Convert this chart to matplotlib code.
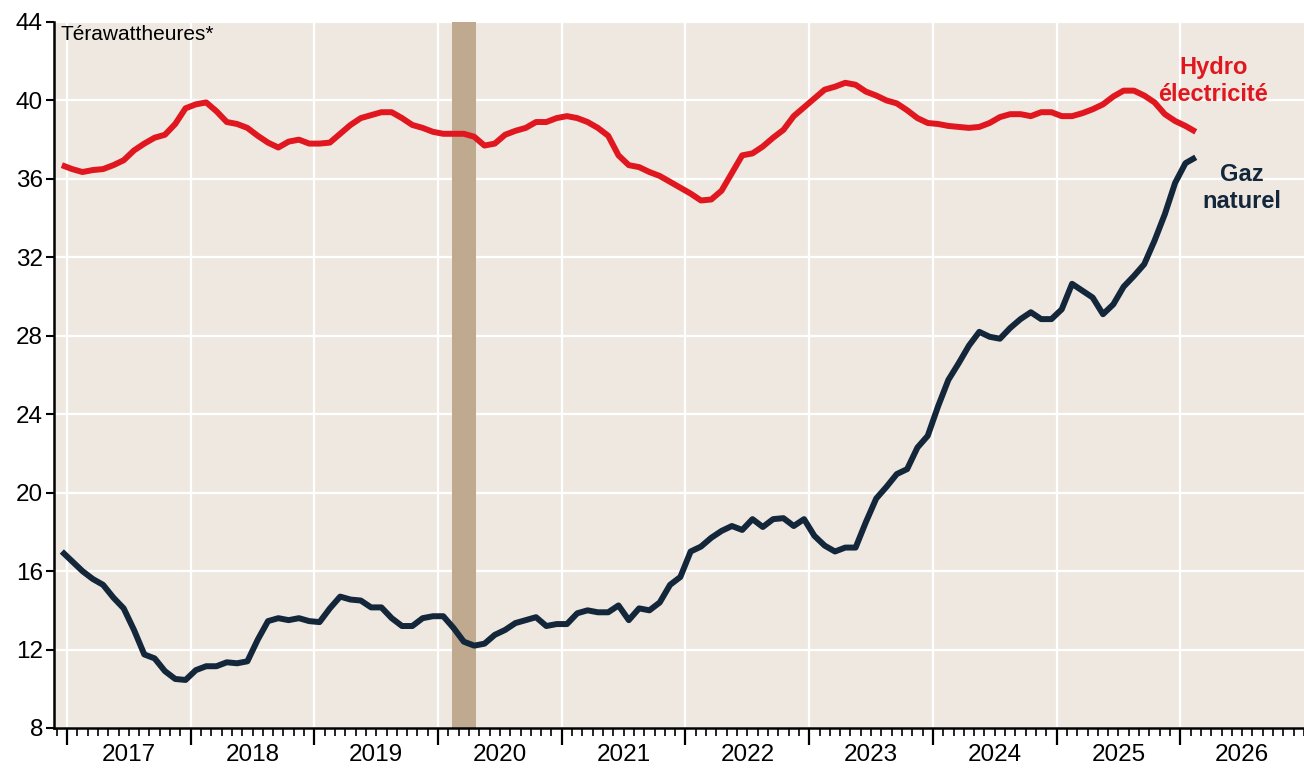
import numpy as np
import matplotlib
matplotlib.use("Agg")
import matplotlib.pyplot as plt
from matplotlib.ticker import FixedLocator, MultipleLocator
import matplotlib.transforms as mtransforms

plt.rcParams['font.family'] = ['Liberation Sans', 'DejaVu Sans']

# Séries mensuelles, déc. 2016 -> févr. 2026 (points en milieu de mois)
start_year = 2016
start_month = 12

hydro = [
    36.7, 36.5, 36.35, 36.45, 36.5, 36.7, 36.95, 37.45, 37.8, 38.1,
    38.25, 38.8, 39.6, 39.8, 39.9, 39.45, 38.9, 38.8, 38.6, 38.2,
    37.85, 37.6, 37.9, 38.0, 37.8, 37.8, 37.85, 38.3, 38.75, 39.1,
    39.25, 39.4, 39.4, 39.1, 38.75, 38.6, 38.4, 38.3, 38.3, 38.3,
    38.15, 37.7, 37.8, 38.25, 38.45, 38.6, 38.9, 38.9, 39.1, 39.2,
    39.1, 38.9, 38.6, 38.2, 37.2, 36.7, 36.6, 36.35, 36.15, 35.85,
    35.55, 35.25, 34.9, 34.95, 35.4, 36.3, 37.2, 37.3, 37.65, 38.1,
    38.5, 39.2, 39.65, 40.1, 40.55, 40.7, 40.9, 40.8, 40.45, 40.25,
    40.0, 39.85, 39.5, 39.1, 38.85, 38.8, 38.7, 38.65, 38.6, 38.65,
    38.85, 39.15, 39.3, 39.3, 39.2, 39.4, 39.4, 39.2, 39.2, 39.35,
    39.55, 39.8, 40.2, 40.5, 40.5, 40.25, 39.9, 39.3, 38.95, 38.7,
    38.4,
]

gaz = [
    17.0, 16.5, 16.0, 15.6, 15.3, 14.65, 14.1, 13.0, 11.75, 11.55,
    10.9, 10.5, 10.45, 10.95, 11.15, 11.15, 11.35, 11.3, 11.4, 12.5,
    13.45, 13.6, 13.5, 13.6, 13.45, 13.4, 14.1, 14.7, 14.55, 14.5,
    14.15, 14.15, 13.6, 13.2, 13.2, 13.6, 13.7, 13.7, 13.1, 12.4,
    12.2, 12.3, 12.75, 13.0, 13.35, 13.5, 13.65, 13.2, 13.3, 13.3,
    13.85, 14.0, 13.9, 13.9, 14.25, 13.5, 14.1, 14.0, 14.4, 15.3,
    15.7, 17.0, 17.25, 17.7, 18.05, 18.3, 18.1, 18.65, 18.25, 18.65,
    18.7, 18.3, 18.65, 17.8, 17.3, 17.0, 17.2, 17.2, 18.5, 19.7,
    20.3, 20.95, 21.2, 22.3, 22.9, 24.4, 25.75, 26.6, 27.5, 28.2,
    27.95, 27.85, 28.4, 28.85, 29.2, 28.85, 28.85, 29.35, 30.65, 30.3,
    29.95, 29.1, 29.6, 30.5, 31.05, 31.65, 32.85, 34.2, 35.8, 36.8,
    37.1,
]

years = list(range(2017, 2027))
yticks = [8, 12, 16, 20, 24, 28, 32, 36, 40, 44]
recession = (2020.115, 2020.31)

RED = '#E1171F'
NAVY = '#13263A'
BG = '#EEE8E1'
SHADE = '#BFAA8F'

n = len(hydro)
x = start_year + (start_month - 0.5) / 12 + np.arange(n) / 12

fig = plt.figure(figsize=(13.04, 7.69), dpi=100)
ax = fig.add_axes([54 / 1304, 1 - 728 / 769, 1 - 54 / 1304, (728 - 22) / 769])
ax.set_facecolor(BG)

ax.axvspan(*recession, color=SHADE, lw=0, zorder=1)

ax.plot(x, hydro, color=RED, lw=4.3, solid_capstyle='butt', zorder=3)
ax.plot(x, gaz, color=NAVY, lw=4.3, solid_capstyle='butt', zorder=3)

ax.set_xlim(2016.895, 2027.0)
ax.set_ylim(8, 44)

ax.set_yticks(yticks)
ax.set_yticklabels([str(v) for v in yticks])
ax.xaxis.set_major_locator(FixedLocator(years))
ax.xaxis.set_minor_locator(MultipleLocator(1 / 12))
ax.set_xticklabels([])

ax.grid(True, which='major', color='white', lw=1.6, zorder=0)
ax.set_axisbelow(True)

for s in ['top', 'right']:
    ax.spines[s].set_visible(False)
for s in ['left', 'bottom']:
    ax.spines[s].set_linewidth(1.8)
    ax.spines[s].set_color('black')

ax.tick_params(axis='y', which='major', direction='out', length=6, width=1.5,
               labelsize=17.5, pad=2)
ax.tick_params(axis='x', which='major', direction='out', length=12, width=1.6)
ax.tick_params(axis='x', which='minor', direction='out', length=6, width=1.2)

trans = mtransforms.blended_transform_factory(ax.transData, ax.transAxes)
for yr in years:
    ax.text(yr + 0.5, -0.038, str(yr), transform=trans, ha='center', va='center',
            fontsize=17.5, clip_on=False)

ax.text(2017 - 6 / 123.8, 43.85, 'Térawattheures*', ha='left', va='top', fontsize=15)

ax.text(2026.265, 41.0, 'Hydro\nélectricité', color=RED, fontsize=17,
        fontweight='bold', ha='center', va='center', linespacing=1.2)
ax.text(2026.5, 35.55, 'Gaz\nnaturel', color=NAVY, fontsize=17,
        fontweight='bold', ha='center', va='center', linespacing=1.2)

fig.savefig('out.png', dpi=100, facecolor='white')
